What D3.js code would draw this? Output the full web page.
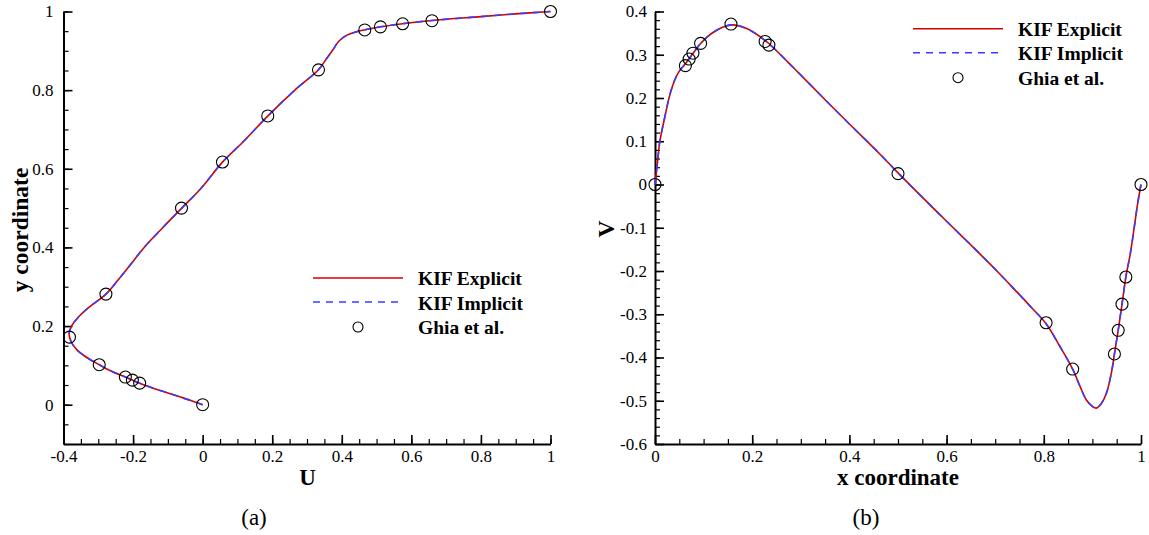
<!DOCTYPE html>
<html>
<head>
<meta charset="utf-8">
<script src="https://cdn.jsdelivr.net/npm/d3@7"></script>
<style>
  body { margin: 0; background: #fff; }
  svg { display: block; font-family: "Liberation Serif", "Times New Roman", serif; }
  svg text { font-family: "Liberation Serif", "Times New Roman", serif; }
</style>
</head>
<body>
<div id="chart"></div>
<script>
// panel (a): U along vertical centreline
const uCurveY = [0, 0.01, 0.02, 0.03, 0.04, 0.0547, 0.0625, 0.0703, 0.085, 0.1016, 0.12, 0.14, 0.16, 0.18, 0.2, 0.22, 0.246, 0.2813, 0.315, 0.35, 0.4, 0.45, 0.5, 0.55, 0.617, 0.67, 0.734, 0.8, 0.852, 0.881, 0.902, 0.925, 0.94, 0.948, 0.954, 0.961, 0.969, 0.977, 0.987, 0.994, 1.0];
const uCurveU = [0, -0.032, -0.066, -0.1, -0.136, -0.181, -0.202, -0.222, -0.262, -0.297, -0.333, -0.362, -0.378, -0.384, -0.377, -0.36, -0.329, -0.278, -0.245, -0.213, -0.168, -0.115, -0.06, -0.005, 0.057, 0.118, 0.187, 0.265, 0.333, 0.357, 0.374, 0.392, 0.415, 0.44, 0.47, 0.511, 0.575, 0.659, 0.8, 0.9, 1.0];
const ghiaY = [1.0, 0.9766, 0.9688, 0.9609, 0.9531, 0.8516, 0.7344, 0.6172, 0.5, 0.2813, 0.1719, 0.1016, 0.0703, 0.0625, 0.0547, 0.0];
const ghiaU = [1.0, 0.65928, 0.57492, 0.51117, 0.46604, 0.33304, 0.18719, 0.05702, -0.0608, -0.27805, -0.38289, -0.2973, -0.2222, -0.20196, -0.18109, 0.0];

// panel (b): V along horizontal centreline
const vCurveX = [0, 0.005, 0.01, 0.02, 0.03, 0.04, 0.05, 0.0625, 0.0703, 0.0781, 0.0938, 0.12, 0.1563, 0.19, 0.2266, 0.2344, 0.285, 0.35, 0.4, 0.463, 0.5, 0.6, 0.65, 0.7, 0.74, 0.775, 0.8047, 0.833, 0.8594, 0.875, 0.888, 0.9, 0.908, 0.918, 0.929, 0.94, 0.9453, 0.9531, 0.9609, 0.9688, 0.978, 0.986, 0.993, 1.0];
const vCurveV = [0, 0.05, 0.1, 0.155, 0.205, 0.24, 0.262, 0.279, 0.291, 0.303, 0.326, 0.352, 0.369, 0.36, 0.333, 0.326, 0.27, 0.196, 0.14, 0.07, 0.027, -0.085, -0.14, -0.196, -0.243, -0.285, -0.322, -0.374, -0.427, -0.468, -0.499, -0.513, -0.517, -0.507, -0.482, -0.43, -0.392, -0.337, -0.277, -0.214, -0.16, -0.1, -0.045, 0];
const ghiaX = [1.0, 0.9688, 0.9609, 0.9531, 0.9453, 0.8594, 0.8047, 0.5, 0.2344, 0.2266, 0.1563, 0.0938, 0.0781, 0.0703, 0.0625, 0.0];
const ghiaV = [0.0, -0.21388, -0.27669, -0.33714, -0.39188, -0.42665, -0.31966, 0.02526, 0.32235, 0.33075, 0.37095, 0.32627, 0.30353, 0.29012, 0.27485, 0.0];

const seriesNames = ["KIF Explicit", "KIF Implicit", "Ghia et al."];

const aXTicks = [-0.4, -0.2, 0, 0.2, 0.4, 0.6, 0.8, 1];
const aYTicks = [0, 0.2, 0.4, 0.6, 0.8, 1];
const bXTicks = [0, 0.2, 0.4, 0.6, 0.8, 1];
const bYTicks = [-0.6, -0.5, -0.4, -0.3, -0.2, -0.1, 0, 0.1, 0.2, 0.3, 0.4];

const RED = "#d40000";
const BLUE = "#3b3bff";
const SERIF = '"Liberation Serif", "Times New Roman", serif';

const svg = d3.select("#chart").append("svg")
  .attr("width", 1149)
  .attr("height", 535);

function fmt(d) { return String(+d.toFixed(2)); }

function drawPanel(cfg) {
  const x = d3.scaleLinear().domain(cfg.xDomain).range(cfg.xRange);
  const y = d3.scaleLinear().domain(cfg.yDomain).range(cfg.yRange);
  const g = svg.append("g");

  // minor ticks first
  g.append("g")
    .attr("transform", `translate(0,${cfg.yRange[0]})`)
    .call(d3.axisBottom(x).tickValues(d3.range(cfg.xDomain[0], cfg.xDomain[1] + 1e-9, cfg.xMinor)).tickSize(-5).tickFormat(""))
    .call(a => a.select(".domain").remove())
    .selectAll("line").attr("stroke-width", 1.2);
  g.append("g")
    .attr("transform", `translate(${cfg.xRange[0]},0)`)
    .call(d3.axisLeft(y).tickValues(d3.range(cfg.yDomain[0], cfg.yDomain[1] + 1e-9, cfg.yMinor)).tickSize(-5).tickFormat(""))
    .call(a => a.select(".domain").remove())
    .selectAll("line").attr("stroke-width", 1.2);

  const xa = g.append("g")
    .attr("transform", `translate(0,${cfg.yRange[0]})`)
    .call(d3.axisBottom(x).tickValues(cfg.xTicks).tickSizeInner(-9).tickSizeOuter(0).tickPadding(6).tickFormat(fmt));
  const ya = g.append("g")
    .attr("transform", `translate(${cfg.xRange[0]},0)`)
    .call(d3.axisLeft(y).tickValues(cfg.yTicks).tickSizeInner(-9).tickSizeOuter(0).tickPadding(cfg.yPad).tickFormat(fmt));
  [xa, ya].forEach(a => {
    a.attr("font-family", null).attr("font-size", null);
    a.select(".domain").attr("stroke-width", 2);
    a.selectAll("line").attr("stroke-width", 1.6);
    a.selectAll("text").style("font-family", SERIF).style("font-size", "17px").attr("fill", "#000");
  });

  const pts = cfg.cx.map((v, i) => [v, cfg.cy[i]]);
  const line = d3.line().x(d => x(d[0])).y(d => y(d[1])).curve(d3.curveCatmullRom.alpha(0.5));
  g.append("path").attr("d", line(pts)).attr("fill", "none").attr("stroke", RED).attr("stroke-width", 1.6);
  g.append("path").attr("d", line(pts)).attr("fill", "none").attr("stroke", BLUE).attr("stroke-width", 1.6).attr("stroke-dasharray", "7,6");

  g.selectAll("circle.ghia")
    .data(cfg.gx.map((v, i) => [v, cfg.gy[i]]))
    .enter().append("circle")
    .attr("class", "ghia")
    .attr("cx", d => x(d[0]))
    .attr("cy", d => y(d[1]))
    .attr("r", 6)
    .attr("fill", "none")
    .attr("stroke", "#000")
    .attr("stroke-width", 1.1);

  // axis titles
  g.append("text")
    .attr("x", cfg.xTitle[0]).attr("y", cfg.xTitle[1])
    .attr("text-anchor", "middle").attr("font-weight", "bold").attr("font-size", 23)
    .text(cfg.xLabel);
  g.append("text")
    .attr("transform", `translate(${cfg.yTitle[0]},${cfg.yTitle[1]}) rotate(-90)`)
    .attr("text-anchor", "middle").attr("font-weight", "bold").attr("font-size", 23.5)
    .text(cfg.yLabel);

  // legend
  const lg = g.append("g").attr("transform", `translate(${cfg.legend[0]},${cfg.legend[1]})`);
  lg.append("line").attr("x1", 0).attr("x2", 90).attr("y1", 0).attr("y2", 0).attr("stroke", RED).attr("stroke-width", 1.6);
  lg.append("line").attr("x1", 0).attr("x2", 90).attr("y1", 24).attr("y2", 24).attr("stroke", BLUE).attr("stroke-width", 1.6).attr("stroke-dasharray", "7,6");
  lg.append("circle").attr("cx", 45).attr("cy", 49).attr("r", 5).attr("fill", "none").attr("stroke", "#000").attr("stroke-width", 1.1);
  lg.selectAll("text.leg").data(seriesNames).enter().append("text")
    .attr("x", 105).attr("y", (d, i) => i * 24.5 + 7)
    .attr("font-weight", "bold").attr("font-size", 19.5)
    .text(d => d);

  g.append("text")
    .attr("x", cfg.caption[0]).attr("y", cfg.caption[1])
    .attr("text-anchor", "middle").attr("font-size", 23)
    .text(cfg.captionText);
}

drawPanel({
  xDomain: [-0.4, 1], xRange: [63.5, 550.5],
  yDomain: [-0.1, 1], yRange: [444, 11.5],
  xMinor: 0.05, yMinor: 0.05, xTicks: aXTicks, yTicks: aYTicks, yPad: 10,
  cx: uCurveU, cy: uCurveY, gx: ghiaU, gy: ghiaY,
  xLabel: "U", yLabel: "y coordinate",
  xTitle: [307.5, 485], yTitle: [28, 230],
  legend: [313, 278], caption: [254, 525], captionText: "(a)"
});

drawPanel({
  xDomain: [0, 1], xRange: [655, 1141],
  yDomain: [-0.6, 0.4], yRange: [444, 11.5],
  xMinor: 0.05, yMinor: 0.02, xTicks: bXTicks, yTicks: bYTicks, yPad: 8,
  cx: vCurveX, cy: vCurveV, gx: ghiaX, gy: ghiaV,
  xLabel: "x coordinate", yLabel: "V",
  xTitle: [898, 485], yTitle: [614, 229],
  legend: [913, 28.7], caption: [866, 525], captionText: "(b)"
});
</script>
</body>
</html>
